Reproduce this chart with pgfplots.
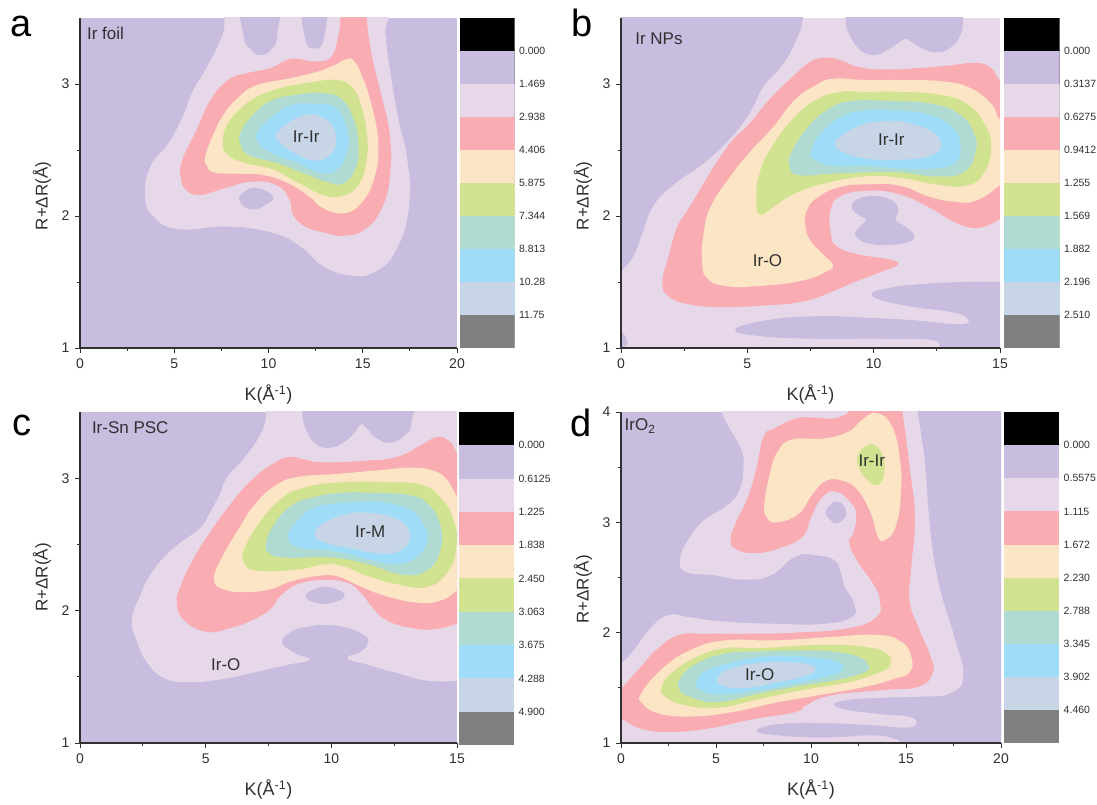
\documentclass[border=0pt]{standalone}
\usepackage{fontspec}
\setmainfont{Liberation Sans}
\usepackage{pgfplots}
\pgfplotsset{compat=1.18}
\definecolor{cLav}{HTML}{C8BCDF}
\definecolor{cPale}{HTML}{E6D7E9}
\definecolor{cPink}{HTML}{F9ADB3}
\definecolor{cCream}{HTML}{FBE5C5}
\definecolor{cGreen}{HTML}{D1E391}
\definecolor{cTeal}{HTML}{B0DBD3}
\definecolor{cSky}{HTML}{9FDCF7}
\definecolor{cIce}{HTML}{C8D5E6}
\definecolor{cGrey}{HTML}{808080}
\definecolor{cTxt}{HTML}{303030}
\tikzset{
  lv/.style={draw=none,fill=#1,smooth cycle,tension=0.8},
  lav/.style={lv=cLav},pal/.style={lv=cPale},pnk/.style={lv=cPink},crm/.style={lv=cCream},
  grn/.style={lv=cGreen},tel/.style={lv=cTeal},sky/.style={lv=cSky},ice/.style={lv=cIce},
  ann/.style={font=\fontsize{17}{19}\selectfont,text=cTxt},
  let/.style={font=\fontsize{38}{40}\selectfont,text=black,anchor=base}
}
\pgfplotsset{
  main/.style={
    scale only axis,anchor=south west,
    axis x line*=bottom,axis y line*=left,
    axis line style={-,line width=1.1pt,color=cTxt},
    every tick/.style={line width=0.8pt,color=cTxt},
    tick align=outside,major tick length=5pt,minor tick length=3pt,
    minor x tick num=1,minor y tick num=1,
    /pgf/number format/assume math mode=true,
    tick label style={font=\fontsize{14}{16}\selectfont,text=cTxt},
    xticklabel style={yshift=-2pt},yticklabel style={xshift=-2pt},
    xlabel={K(Å\textsuperscript{-1})},ylabel={R+ΔR(Å)},
    xlabel style={font=\fontsize{18}{20}\selectfont,text=cTxt,anchor=center,at={([yshift=-47pt]axis description cs:0.5,0)}},
    ylabel style={font=\fontsize{17}{19}\selectfont,text=cTxt,anchor=center,at={([xshift=-38pt,yshift=-13pt]axis description cs:0,0.5)}},
    axis on top,clip=true,
  },
  cbar/.style={
    scale only axis,anchor=south west,xmin=0,xmax=1,ymin=0,ymax=10,
    hide x axis,axis y line*=right,axis line style={draw=none},
    ytick={1,...,9},major tick length=0pt,
    yticklabel style={font=\fontsize{10.5}{12}\selectfont,text=cTxt,xshift=1pt},
  }
}
% colour bar bands, each filled from the axis floor up to its top boundary
\newcommand{\bands}{%
  \addplot[draw=none,fill=black] coordinates {(0,10)(1,10)} \closedcycle;
  \addplot[draw=none,fill=cLav] coordinates {(0,9)(1,9)} \closedcycle;
  \addplot[draw=none,fill=cPale] coordinates {(0,8)(1,8)} \closedcycle;
  \addplot[draw=none,fill=cPink] coordinates {(0,7)(1,7)} \closedcycle;
  \addplot[draw=none,fill=cCream] coordinates {(0,6)(1,6)} \closedcycle;
  \addplot[draw=none,fill=cGreen] coordinates {(0,5)(1,5)} \closedcycle;
  \addplot[draw=none,fill=cTeal] coordinates {(0,4)(1,4)} \closedcycle;
  \addplot[draw=none,fill=cSky] coordinates {(0,3)(1,3)} \closedcycle;
  \addplot[draw=none,fill=cIce] coordinates {(0,2)(1,2)} \closedcycle;
  \addplot[draw=none,fill=cGrey] coordinates {(0,1)(1,1)} \closedcycle;
}
\begin{document}
\begin{tikzpicture}
\path[use as bounding box] (0pt,0pt) rectangle (1097pt,805pt);

% ---------------- a
\begin{axis}[main,at={(80pt,457pt)},width=377pt,height=330pt,xmin=0,xmax=20,ymin=1,ymax=3.5,
  xtick={0,5,10,15,20},ytick={1,2,3},axis background/.style={fill=cLav}]
\addplot[pal] coordinates {(7.67,3.7)(7.67,3.5)(7.52,3.36)(6.74,3.13)(6.0,2.95)(5.44,2.75)(4.69,2.55)(3.76,2.38)(3.45,2.15)(3.95,1.99)(5.25,1.90)(7.86,1.92)(10.28,1.87)(11.77,1.76)(12.89,1.62)(14.38,1.55)(15.68,1.58)(16.8,1.75)(17.45,2.07)(17.36,2.43)(16.8,2.80)(16.2,3.38)(16.2,3.7)};
\addplot[lav] coordinates {(8.57,3.7)(8.66,3.38)(9.07,3.26)(9.63,3.22)(10.19,3.27)(10.47,3.38)(10.47,3.7)};
\addplot[lav] coordinates {(11.82,3.7)(11.92,3.36)(12.42,3.27)(12.96,3.36)(13.03,3.7)};
\addplot[lav] coordinates {(8.45,2.12)(8.79,2.19)(9.44,2.21)(10.24,2.15)(9.91,2.09)(9.07,2.05)};
\addplot[pnk] coordinates {(13.82,3.7)(13.82,3.5)(13.69,3.36)(13.35,3.21)(12.51,3.17)(11.21,3.19)(10.09,3.12)(8.79,3.08)(7.86,3.03)(6.93,2.88)(6.18,2.65)(5.44,2.43)(5.34,2.30)(5.62,2.20)(6.37,2.16)(7.67,2.21)(9.16,2.26)(10.47,2.23)(11.12,2.12)(11.30,2.01)(11.96,1.92)(13.07,1.87)(14.0,1.85)(15.12,1.90)(16.05,2.07)(16.46,2.33)(16.42,2.63)(15.96,2.93)(15.49,3.21)(15.21,3.5)(15.21,3.7)};
\addplot[crm] coordinates {(14.19,3.19)(13.45,3.14)(12.51,3.09)(11.02,3.04)(9.35,2.99)(8.42,2.90)(7.67,2.78)(7.11,2.63)(6.65,2.45)(6.74,2.38)(7.11,2.33)(8.42,2.32)(9.72,2.31)(11.02,2.25)(12.14,2.15)(12.89,2.06)(14.0,2.02)(14.93,2.10)(15.59,2.28)(15.83,2.53)(15.49,2.83)(14.93,3.07)(14.56,3.17)};
\addplot[grn] coordinates {(13.63,3.03)(12.14,3.01)(10.65,2.97)(9.35,2.90)(8.42,2.80)(7.77,2.68)(7.58,2.55)(7.86,2.46)(8.79,2.40)(10.28,2.35)(11.58,2.25)(12.89,2.16)(13.82,2.15)(14.75,2.23)(15.21,2.43)(15.21,2.63)(14.93,2.83)(14.47,2.97)};
\addplot[tel] coordinates {(12.98,2.93)(11.58,2.92)(10.09,2.87)(9.07,2.75)(8.51,2.63)(8.51,2.55)(8.98,2.46)(10.47,2.40)(11.77,2.33)(13.07,2.26)(14.0,2.25)(14.66,2.38)(14.75,2.58)(14.47,2.75)(13.91,2.88)};
\addplot[sky] coordinates {(12.51,2.85)(11.21,2.84)(10.09,2.74)(9.44,2.64)(9.44,2.56)(10.09,2.48)(11.58,2.40)(12.70,2.33)(13.63,2.35)(14.19,2.50)(14.19,2.64)(13.82,2.78)(13.26,2.84)};
\addplot[ice] coordinates {(12.14,2.77)(11.21,2.72)(10.47,2.63)(10.47,2.58)(11.21,2.49)(12.51,2.42)(13.35,2.48)(13.59,2.58)(13.35,2.69)(12.79,2.75)};
\node[ann] at (axis cs:1.35,3.38) {Ir foil};
\node[ann] at (axis cs:12,2.60) {Ir-Ir};
\end{axis}
\begin{axis}[cbar,at={(459.5pt,457pt)},width=55pt,height=330pt,
  yticklabels={11.75,10.28,8.813,7.344,5.875,4.406,2.938,1.469,0.000}]
\bands
\end{axis}

% ---------------- b
\begin{axis}[main,at={(621pt,457pt)},width=379pt,height=330pt,xmin=0,xmax=15,ymin=1,ymax=3.5,
  xtick={0,5,10,15},ytick={1,2,3},axis background/.style={fill=cPale}]
\addplot[lav] coordinates {(-1,1.4)(-0.33,1.52)(0,1.58)(0.50,1.70)(0.85,1.87)(1.26,2.07)(2.03,2.23)(3.27,2.40)(4.38,2.60)(5.15,2.80)(5.63,2.98)(6.33,3.13)(6.88,3.31)(7.20,3.5)(7.3,3.8)(-1,3.8)};
\addplot[lav] coordinates {(8.89,3.8)(8.89,3.5)(9.03,3.38)(9.45,3.26)(10.0,3.22)(10.56,3.26)(11.11,3.33)(11.32,3.34)(11.74,3.29)(12.43,3.24)(12.99,3.27)(13.40,3.36)(13.54,3.5)(13.54,3.8)};
\addplot[lav] coordinates {(9.13,2.07)(9.38,2.13)(10.07,2.15)(10.70,2.12)(10.98,2.05)(10.88,1.97)(11.25,1.92)(11.60,1.85)(11.32,1.80)(10.49,1.78)(9.66,1.80)(9.27,1.86)(9.45,1.92)(9.70,1.97)(9.38,2.01)};
\addplot[lav] coordinates {(15.6,1.50)(15.1,1.50)(13.54,1.50)(11.60,1.48)(10.49,1.45)(9.93,1.41)(10.35,1.36)(11.60,1.31)(13.13,1.27)(13.72,1.22)(13.40,1.18)(11.60,1.21)(9.66,1.23)(7.71,1.24)(5.77,1.21)(4.52,1.14)(5.49,1.09)(7.71,1.07)(10.35,1.07)(12.29,1.06)(12.60,1.0)(12.57,0.9)(15.6,0.9)};
\addplot[lav] coordinates {(-0.2,1.13)(0,1.13)(0.25,1.05)(0.12,1.0)(-0.2,0.95)};
\addplot[pnk] coordinates {(8.13,3.20)(7.51,3.17)(6.88,3.07)(5.91,2.89)(5.08,2.70)(4.11,2.50)(2.72,2.07)(2.23,1.92)(1.89,1.70)(1.64,1.50)(1.89,1.39)(2.72,1.33)(3.83,1.31)(5.49,1.32)(7.16,1.35)(8.27,1.42)(9.24,1.50)(10.35,1.58)(10.95,1.63)(10.63,1.67)(9.38,1.71)(8.55,1.77)(8.30,1.87)(8.30,2.05)(8.69,2.15)(9.66,2.19)(10.91,2.17)(12.15,2.07)(13.13,1.96)(13.96,1.91)(14.65,1.94)(15.21,2.0)(15.5,2.0)(15.5,3.03)(15.0,3.03)(14.65,3.12)(14.03,3.16)(12.99,3.14)(11.74,3.12)(10.35,3.11)(9.38,3.13)(8.69,3.18)};
\addplot[crm] coordinates {(8.41,3.04)(7.71,2.99)(6.88,2.88)(6.05,2.68)(5.08,2.48)(4.25,2.28)(3.55,2.07)(3.27,1.87)(3.21,1.65)(3.41,1.53)(4.11,1.47)(5.49,1.47)(7.16,1.51)(8.13,1.58)(8.38,1.63)(7.99,1.71)(7.51,1.81)(7.30,1.92)(7.37,2.05)(7.85,2.15)(8.69,2.22)(9.80,2.24)(11.04,2.23)(12.15,2.15)(13.13,2.11)(14.10,2.12)(15.21,2.26)(15.5,2.26)(15.5,2.73)(15,2.73)(14.65,2.85)(13.82,2.97)(12.71,3.02)(11.04,3.03)(9.66,3.03)};
\addplot[grn] coordinates {(8.69,2.94)(7.71,2.88)(6.88,2.75)(6.05,2.55)(5.49,2.33)(5.36,2.12)(5.49,2.01)(6.05,2.07)(6.88,2.17)(8.13,2.25)(9.66,2.30)(11.04,2.29)(12.43,2.24)(13.68,2.23)(14.37,2.33)(14.65,2.53)(14.37,2.70)(13.68,2.85)(12.57,2.92)(11.04,2.94)(9.66,2.94)};
\addplot[tel] coordinates {(9.10,2.87)(8.13,2.80)(7.30,2.65)(6.74,2.48)(6.67,2.38)(7.02,2.31)(8.27,2.32)(9.66,2.33)(11.04,2.33)(12.43,2.30)(13.54,2.33)(14.03,2.48)(13.96,2.63)(13.40,2.77)(12.29,2.85)(10.77,2.87)};
\addplot[sky] coordinates {(9.66,2.80)(8.69,2.75)(7.92,2.63)(7.55,2.50)(7.65,2.43)(8.41,2.38)(9.66,2.38)(11.04,2.36)(12.43,2.36)(13.26,2.41)(13.43,2.53)(13.13,2.67)(12.15,2.77)(10.77,2.80)};
\addplot[ice] coordinates {(10.63,2.72)(9.52,2.69)(8.69,2.60)(8.48,2.55)(8.82,2.48)(9.93,2.43)(11.32,2.43)(12.29,2.46)(12.67,2.54)(12.29,2.64)(11.46,2.70)};
\node[ann] at (axis cs:1.5,3.34) {Ir NPs};
\node[ann] at (axis cs:10.7,2.58) {Ir-Ir};
\node[ann] at (axis cs:5.8,1.66) {Ir-O};
\end{axis}
\begin{axis}[cbar,at={(1004pt,457pt)},width=55.5pt,height=330pt,
  yticklabels={2.510,2.196,1.882,1.569,1.255,0.9412,0.6275,0.3137,0.000}]
\bands
\end{axis}

% ---------------- c
\begin{axis}[main,at={(80pt,62pt)},width=377pt,height=331pt,xmin=0,xmax=15,ymin=1,ymax=3.5,
  xtick={0,5,10,15},ytick={1,2,3},axis background/.style={fill=cLav},
  ylabel style={at={([xshift=-38pt]axis description cs:0,0.5)}}]
\addplot[pal] coordinates {(7.4,3.8)(7.41,3.5)(7.20,3.34)(6.57,3.16)(5.87,3.01)(5.52,2.86)(5.17,2.74)(4.76,2.62)(3.78,2.48)(2.94,2.31)(2.38,2.11)(2.07,1.93)(2.24,1.78)(2.66,1.61)(3.36,1.49)(4.34,1.46)(5.59,1.48)(6.85,1.53)(8.25,1.59)(9.13,1.63)(8.53,1.68)(8.04,1.76)(8.39,1.84)(9.09,1.88)(9.79,1.89)(10.63,1.87)(11.33,1.81)(11.47,1.76)(11.19,1.69)(10.63,1.64)(11.47,1.59)(12.59,1.53)(13.85,1.47)(15.24,1.47)(15.6,1.47)(15.6,3.8)};
\addplot[lav] coordinates {(8.8,3.8)(8.84,3.5)(9.02,3.36)(9.37,3.26)(9.93,3.23)(10.56,3.28)(10.98,3.36)(11.19,3.41)(11.40,3.38)(11.82,3.30)(12.38,3.27)(12.94,3.33)(13.2,3.44)(13.22,3.8)};
\addplot[lav] coordinates {(8.98,2.11)(9.30,2.16)(9.79,2.18)(10.35,2.15)(10.53,2.11)(10.21,2.07)(9.72,2.05)(9.23,2.07)};
\addplot[pnk] coordinates {(8.32,3.16)(7.69,3.11)(6.85,2.99)(6.01,2.81)(5.17,2.59)(4.48,2.38)(3.99,2.18)(3.85,2.06)(4.13,1.93)(5.03,1.84)(6.01,1.87)(6.99,1.94)(7.62,2.02)(7.97,2.11)(8.67,2.20)(9.65,2.23)(10.63,2.21)(11.19,2.13)(11.61,2.03)(12.17,1.93)(13.15,1.87)(14.13,1.86)(15.24,1.91)(15.7,1.91)(15.7,3.10)(15.24,3.10)(14.97,3.2)(14.69,3.28)(14.20,3.31)(13.57,3.25)(12.59,3.16)(11.19,3.13)(9.65,3.12)(8.95,3.14)};
\addplot[crm] coordinates {(8.67,3.01)(7.83,2.95)(6.99,2.81)(6.29,2.61)(5.59,2.38)(5.34,2.23)(5.73,2.16)(6.57,2.14)(7.55,2.16)(8.39,2.22)(9.37,2.26)(10.21,2.26)(11.19,2.18)(12.17,2.11)(13.43,2.06)(14.41,2.08)(15.24,2.18)(15.7,2.18)(15.7,2.80)(15.24,2.80)(14.97,2.87)(14.55,3.0)(13.99,3.06)(13.15,3.08)(11.89,3.06)(10.07,3.03)};
\addplot[grn] coordinates {(8.95,2.93)(7.97,2.84)(7.13,2.66)(6.57,2.48)(6.53,2.36)(7.13,2.30)(8.67,2.31)(10.07,2.35)(11.47,2.26)(12.59,2.20)(13.85,2.18)(14.69,2.31)(14.97,2.48)(14.90,2.66)(14.41,2.84)(13.57,2.95)(12.17,2.97)(10.49,2.97)};
\addplot[tel] coordinates {(9.37,2.86)(8.39,2.79)(7.69,2.64)(7.41,2.51)(7.55,2.43)(8.25,2.40)(10.07,2.40)(11.47,2.35)(12.87,2.27)(13.85,2.31)(14.34,2.46)(14.34,2.64)(13.92,2.79)(13.15,2.87)(11.47,2.89)(10.49,2.89)};
\addplot[sky] coordinates {(10.21,2.81)(9.23,2.77)(8.53,2.65)(8.28,2.56)(8.67,2.48)(10.07,2.45)(11.61,2.38)(12.59,2.35)(13.43,2.41)(13.82,2.54)(13.64,2.66)(13.15,2.76)(12.03,2.82)(11.19,2.82)};
\addplot[ice] coordinates {(10.63,2.73)(9.79,2.67)(9.34,2.59)(9.65,2.52)(10.77,2.47)(12.03,2.43)(12.80,2.46)(13.12,2.56)(12.87,2.66)(12.17,2.72)(11.33,2.74)};
\node[ann] at (axis cs:2.0,3.38) {Ir-Sn PSC};
\node[ann] at (axis cs:11.55,2.60) {Ir-M};
\node[ann] at (axis cs:5.8,1.59) {Ir-O};
\end{axis}
\begin{axis}[cbar,at={(459pt,60pt)},width=55pt,height=333pt,
  yticklabels={4.900,4.288,3.675,3.063,2.450,1.838,1.225,0.6125,0.000}]
\bands
\end{axis}

% ---------------- d
\begin{axis}[main,at={(621pt,62pt)},width=380pt,height=331pt,xmin=0,xmax=20,ymin=1,ymax=4,
  xtick={0,5,10,15,20},ytick={1,2,3,4},axis background/.style={fill=cLav},
  ylabel style={at={([xshift=-38pt,yshift=-12pt]axis description cs:0,0.5)}}]
\addplot[pal] coordinates {(6.46,4.3)(6.46,3.56)(6.22,3.29)(5.48,3.14)(4.37,3.02)(3.53,2.84)(3.11,2.66)(3.44,2.55)(4.92,2.52)(6.40,2.48)(7.88,2.52)(9.18,2.69)(10.29,2.70)(11.21,2.66)(11.58,2.54)(11.77,2.42)(12.28,2.26)(12.14,2.14)(10.66,2.08)(8.25,2.08)(5.48,2.10)(3.63,2.14)(2.52,2.16)(1.59,2.05)(0.67,1.84)(0,1.72)(-0.63,1.63)(-0.63,0.9)(19.35,0.9)(19.35,4.3)};
\addplot[lav] coordinates {(20.65,4.05)(15.62,4.05)(15.62,4.0)(15.84,3.75)(16.02,3.50)(16.30,2.90)(16.76,2.42)(17.50,1.99)(18.02,1.61)(17.32,1.45)(15.84,1.42)(13.80,1.41)(11.95,1.39)(11.21,1.35)(11.95,1.30)(13.80,1.26)(15.10,1.24)(15.56,1.19)(15.10,1.14)(13.25,1.16)(10.66,1.18)(8.25,1.17)(7.14,1.11)(8.25,1.07)(10.66,1.05)(13.25,1.07)(14.36,1.04)(14.73,1.0)(14.82,0.90)(20.65,0.90)};
\addplot[pnk] coordinates {(7.51,3.78)(8.07,3.85)(9.18,3.94)(10.10,3.95)(11.03,3.94)(11.58,3.96)(11.95,4.0)(12.2,4.1)(14.73,4.1)(14.82,4.0)(15.19,3.50)(15.47,3.05)(15.28,2.60)(15.19,2.29)(15.65,2.05)(16.30,1.78)(16.39,1.63)(15.65,1.51)(13.80,1.48)(11.03,1.43)(9.73,1.34)(9.18,1.28)(6.77,1.21)(4.55,1.13)(2.52,1.10)(1.04,1.13)(0,1.22)(-0.63,1.25)(-0.63,1.39)(0,1.49)(1.04,1.69)(1.96,1.86)(3.07,1.98)(4.37,1.99)(6.59,1.99)(9.18,2.00)(11.95,2.04)(13.43,2.14)(13.62,2.29)(13.25,2.45)(12.51,2.63)(12.01,2.81)(12.23,2.90)(12.38,3.05)(12.14,3.17)(11.30,3.28)(10.56,3.22)(10.01,3.05)(9.55,2.87)(8.25,2.76)(6.96,2.72)(6.03,2.76)(5.77,2.84)(6.03,2.99)(6.68,3.23)(7.14,3.50)};
\addplot[crm] coordinates {(13.43,3.99)(12.69,3.93)(11.95,3.82)(10.66,3.76)(8.99,3.75)(8.25,3.64)(7.88,3.47)(7.55,3.17)(7.70,3.04)(8.25,3.0)(9.36,3.08)(10.10,3.26)(10.84,3.38)(11.77,3.37)(12.51,3.28)(13.15,3.08)(13.52,2.87)(13.89,2.84)(14.45,2.96)(14.73,3.26)(14.69,3.56)(14.26,3.87)};
\addplot[grn] coordinates {(12.97,3.70)(12.51,3.62)(12.47,3.52)(12.97,3.38)(13.52,3.34)(13.84,3.44)(13.80,3.59)(13.43,3.69)};
\addplot[lav] coordinates {(10.77,3.09)(11.03,3.16)(11.30,3.19)(11.67,3.16)(11.85,3.08)(11.67,3.02)(11.30,2.99)(11.03,3.02)};
\addplot[crm] coordinates {(8.07,1.93)(5.48,1.93)(3.63,1.84)(2.15,1.67)(1.07,1.45)(1.13,1.36)(1.96,1.27)(3.63,1.24)(5.85,1.28)(8.25,1.37)(10.29,1.43)(12.88,1.51)(14.36,1.58)(15.19,1.64)(15.28,1.78)(14.73,1.92)(13.43,1.98)(11.03,1.96)};
\addplot[grn] coordinates {(7.33,1.86)(5.48,1.86)(4.0,1.78)(2.70,1.64)(2.15,1.51)(2.33,1.42)(3.44,1.34)(5.11,1.32)(7.33,1.40)(9.55,1.48)(11.95,1.55)(13.43,1.63)(14.14,1.70)(13.99,1.81)(12.88,1.87)(10.66,1.89)};
\addplot[tel] coordinates {(7.33,1.83)(5.48,1.81)(4.0,1.72)(3.16,1.60)(3.07,1.49)(3.63,1.42)(5.11,1.37)(7.33,1.45)(9.55,1.52)(11.58,1.58)(12.78,1.64)(13.03,1.70)(12.51,1.78)(11.03,1.83)(9.18,1.84)};
\addplot[sky] coordinates {(7.33,1.78)(5.85,1.73)(4.55,1.66)(4.0,1.57)(4.18,1.48)(5.29,1.44)(7.33,1.48)(9.18,1.54)(11.03,1.61)(11.67,1.67)(11.49,1.73)(10.47,1.77)(8.81,1.79)};
\addplot[ice] coordinates {(7.70,1.73)(6.03,1.69)(5.11,1.60)(5.38,1.52)(6.59,1.50)(8.25,1.55)(9.73,1.61)(10.23,1.67)(9.73,1.72)(8.81,1.73)};
\node[ann] at (axis cs:1.0,3.87) {IrO\textsubscript{2}};
\node[ann] at (axis cs:13.2,3.56) {Ir-Ir};
\node[ann] at (axis cs:7.3,1.62) {Ir-O};
\end{axis}
\begin{axis}[cbar,at={(1003.7pt,61.5pt)},width=55.5pt,height=331.5pt,
  yticklabels={4.460,3.902,3.345,2.788,2.230,1.672,1.115,0.5575,0.000}]
\bands
\end{axis}

\node[let] at (21pt,768pt) {a};
\node[let] at (582pt,768pt) {b};
\node[let] at (22pt,369pt) {c};
\node[let] at (581pt,368pt) {d};
\end{tikzpicture}
\end{document}
